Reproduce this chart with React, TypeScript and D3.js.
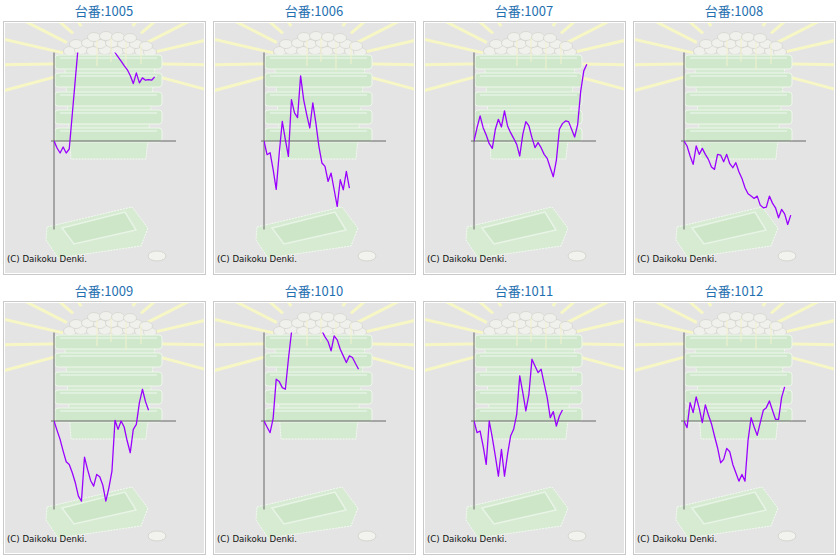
import * as d3 from "d3";

// 台番 (machine numbers), one panel each
const machines = ["1005", "1006", "1007", "1008", "1009", "1010", "1011", "1012"];

// 差枚 per sample (sample step is constant;
// values beyond ±2650 are off the chart and get clipped)
const m1005 = [0, -210, -360, -180, -360, -240, 810, 1860, 2900, 3300, 3700, 3900, 4100, 4000, 4200, 3900, 3700, 3500, 3200, 3000, 2650, 2520, 2390, 2260, 2140, 1960, 1720, 2040, 1740, 1890, 1820, 1840, 1820, 1920];
const m1006 = [0, -410, -350, -860, -1450, -360, 590, 40, -460, 1240, 840, 700, 1950, 1240, 790, 390, 1140, 540, -160, -660, -760, -1210, -960, -1460, -1960, -1160, -1460, -910, -1410];
const m1007 = [0, 400, 750, 400, 180, -80, -220, 350, 650, 420, 900, 450, 250, 80, -100, -450, 200, 580, 450, 100, -200, -50, -200, -400, -520, -800, -1070, -580, 350, 520, 600, 580, 350, 120, 500, 1500, 2100, 2300];
const m1008 = [0, -150, -450, -700, -150, -400, -220, -400, -550, -780, -850, -400, -420, -620, -400, -680, -800, -650, -920, -1120, -1400, -1580, -1650, -1720, -1650, -1920, -2000, -1980, -1650, -1860, -2000, -2300, -2050, -2180, -2500, -2220];
const m1009 = [0, -280, -550, -900, -1220, -1300, -1550, -1850, -2250, -2400, -1080, -1450, -1780, -1950, -1600, -1670, -1920, -2400, -2000, -1500, 20, -250, 0, -180, -600, -950, -250, -100, 550, 950, 580, 320];
const m1010 = [0, -180, -350, 80, 1250, 1180, 1000, 950, 1850, 2650, 3000, 3300, 3500, 3600, 3400, 3500, 3300, 3100, 2900, 2700, 2520, 2380, 2100, 2550, 2430, 2150, 1950, 1750, 1950, 1900, 1720, 1550];
const m1011 = [0, -350, -300, -750, -1300, 0, -500, -1050, -1650, -850, -1650, -1000, -450, -250, 200, 1350, 850, 300, 800, 1850, 1650, 1450, 1550, 1120, 700, 100, 280, -150, 150, 330];
const m1012 = [0, -200, 550, 250, 720, 380, -50, 480, 180, -80, -450, -800, -1250, -1150, -820, -920, -1300, -1550, -1800, -1600, -1800, -580, 100, -180, -430, -50, 320, 400, 600, 320, 50, 50, 700, 1020];

const series = [m1005, m1006, m1007, m1008, m1009, m1010, m1011, m1012];

const yExtent = [-2650, 2650];
const sampleCount = 40;

const panelW = 210;
const panelH = 280;

const x = d3.scaleLinear([0, sampleCount], [54, 176]);
const y = d3.scaleLinear(yExtent, [229.5, 52.5]);

const line = d3.line<number>()
  .x((d, i) => x(i))
  .y(d => y(d));

// background ornament: rays, ball mound, tray stack, bottom tray, coin
const rayAngles = d3.range(-195, 20, 14);
const balls = [
  [70, 51], [81, 50], [93, 51], [105, 50], [117, 51], [129, 50], [141, 51], [150, 52],
  [76, 44], [88, 43], [100, 44], [112, 43], [124, 44], [136, 44], [146, 46],
  [94, 37], [106, 36], [118, 37], [130, 38]
];
const tiers = [55, 73, 92, 110, 128];

function Ornament() {
  return (
    <g clipPath="url(#inner)">
      <g stroke="#f7f7c6" strokeWidth={3}>
        {rayAngles.map(a => {
          const r = (a * Math.PI) / 180;
          return (
            <line key={a}
              x1={107 + 45 * Math.cos(r)} y1={63 + 45 * Math.sin(r)}
              x2={107 + 160 * Math.cos(r)} y2={63 + 160 * Math.sin(r)} />
          );
        })}
      </g>
      <g fill="#f0f0ec" stroke="#cfcfc8" strokeWidth={0.6}>
        {balls.map(([cx, cy], i) => (
          <ellipse key={i} cx={cx} cy={cy} rx={6.5} ry={4.5} />
        ))}
      </g>
      <path d="M64,56 L156,56 L146,159 L71,159 Z" fill="#d5ebd1" stroke="#f4faf3" strokeWidth={1} strokeDasharray="2 1" />
      {tiers.map(t => (
        <g key={t}>
          <rect x={55} y={t} width={107} height={14} rx={3} fill="#cfe7cb" stroke="#eef7ec" strokeWidth={1} />
          <line x1={60} y1={t + 3} x2={157} y2={t + 3} stroke="#e6f3e4" strokeWidth={1.5} />
        </g>
      ))}
      <g stroke="#f2f2cc" strokeWidth={1}>
        <line x1={97} y1={40} x2={97} y2={66} />
        <line x1={111} y1={38} x2={111} y2={62} />
        <line x1={126} y1={42} x2={126} y2={70} />
        <line x1={141} y1={44} x2={141} y2={64} />
      </g>
      <path d="M47,227 L132,207 L148,228 L141,246 L58,258 L46,240 Z" fill="#d6ebd2" stroke="#f4faf3" strokeWidth={1} strokeDasharray="2 1" />
      <path d="M62,228 L125,212 L136,230 L74,244 Z" fill="#cde6c8" stroke="#e8f4e6" strokeWidth={1.5} />
      <ellipse cx={157} cy={256} rx={9} ry={5} fill="#f2f2ee" stroke="#cfcfc8" strokeWidth={0.8} />
    </g>
  );
}

function Panel({ id, values }: { id: string, values: number[] }) {
  return (
    <g>
      <text x={104} y={16} textAnchor="middle" fill="#1f70b0"
        fontFamily="'Noto Sans CJK JP', 'Noto Sans', sans-serif" fontSize={13}>
        {`台番:${id}`}
      </text>
      <rect x={3.5} y={21.5} width={202} height={253} fill="#e4e4e4" stroke="#c9c9c9" />
      <rect x={4.5} y={22.5} width={200} height={251} fill="none" stroke="#ffffff" />
      <Ornament />
      <line x1={x(0)} x2={x(0)} y1={y(yExtent[1])} y2={y(yExtent[0])} stroke="#666" strokeWidth={1} />
      <line x1={x(-1)} x2={x(sampleCount)} y1={y(0)} y2={y(0)} stroke="#666" strokeWidth={1} />
      <path d={line(values) ?? ""} fill="none" stroke="#9a00ff" strokeWidth={1.3}
        strokeLinejoin="round" clipPath="url(#plot)" />
      <text x={7} y={262} fill="#111" fontFamily="'DejaVu Sans', Verdana, sans-serif" fontSize={8.6}>
        (C) Daikoku Denki.
      </text>
    </g>
  );
}

export default function App() {
  return (
    <svg width={840} height={560} style={{ position: "absolute", left: 0, top: 0, background: "#fff" }}>
      <defs>
        <clipPath id="plot" clipPathUnits="userSpaceOnUse">
          <rect x={x(0)} y={y(yExtent[1])} width={x(sampleCount) - x(0)} height={y(yExtent[0]) - y(yExtent[1])} />
        </clipPath>
        <clipPath id="inner" clipPathUnits="userSpaceOnUse">
          <rect x={5} y={23} width={199} height={250} />
        </clipPath>
      </defs>
      {machines.map((id, i) => (
        <g key={id} transform={`translate(${(i % 4) * panelW}, ${Math.floor(i / 4) * panelH})`}>
          <Panel id={id} values={series[i]} />
        </g>
      ))}
    </svg>
  );
}
